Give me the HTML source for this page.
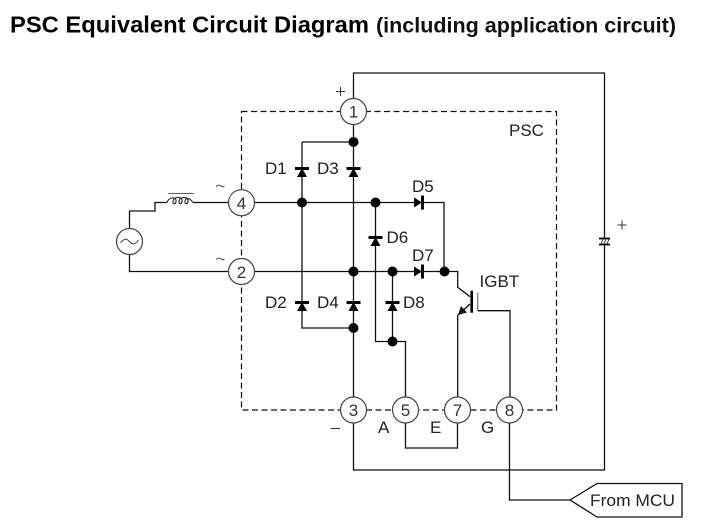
<!DOCTYPE html>
<html><head><meta charset="utf-8"><style>
html,body{margin:0;padding:0;background:#fff}
svg{display:block}
text{font-family:"Liberation Sans",sans-serif;fill:#222;font-size:17px}
.n{text-anchor:middle;font-size:17px;fill:#333}
</style></head><body>
<svg width="714" height="527" viewBox="0 0 714 527" xmlns="http://www.w3.org/2000/svg">
<rect width="714" height="527" fill="#fff"/>
<text x="10" y="32.5" style="font-size:23px;font-weight:bold;fill:#000" textLength="359" lengthAdjust="spacingAndGlyphs">PSC Equivalent Circuit Diagram</text>
<text x="376" y="32.5" style="font-size:21.5px;font-weight:bold;fill:#111" textLength="300" lengthAdjust="spacingAndGlyphs">(including application circuit)</text>

<rect x="241.5" y="111.5" width="315" height="298.5" fill="none" stroke="#111" stroke-width="1.2" stroke-dasharray="6 3.5"/>

<g fill="none" stroke="#111" stroke-width="1.3">
<path d="M353.5 98V73H604.5V470H353.5V423"/>
<path d="M353.5 125V397"/>
<path d="M302 142H353.5M302 142V328H353.5"/>
<path d="M254 202.5H444V271.5M254 271.5H457.7V287.3L470 296.7"/>
<path d="M375.5 202.5V341.5H405.5V397M392.5 271.5V341.5"/>
<path d="M457.7 315V397M470 304L458 315"/>
<path d="M477.7 310.7H510V397" />
<path d="M405.5 423V448H457.5V423"/>
<path d="M509.5 423V500H570"/>
<path d="M129.5 228V211H155V202.5H167M193 202.5H228M129.5 255V271.5H228"/>
<path d="M570 500L597 483.5H682V517H597Z" fill="#fff"/>
</g>
<path d="M477.7 292.7V310.7" stroke="#777" stroke-width="1.2"/>
<path d="M471.7 290.7V312.7" stroke="#000" stroke-width="2.6"/>
<path d="M458 315L461 306L467 312.5Z" fill="#111"/>

<!-- inductor -->
<path d="M168 193.5H194" stroke="#666" stroke-width="1"/>
<path d="M167 202.5C169 197 175 196.5 176 200C176.5 204.5 172.5 205 173 201C174 196.5 181 196.5 182 200C182.5 204.5 178.5 205 179 201C180 196.5 187 196.5 188 200C188.5 204.5 184.5 205 185 201C186 197 190 198 193 202.5" fill="none" stroke="#222" stroke-width="1.1"/>

<!-- diodes -->
<g fill="#000" stroke="none">
<rect x="295" y="167" width="14" height="3"/><path d="M302 168L307 177H297Z"/>
<rect x="346.5" y="167" width="14" height="3"/><path d="M353.5 168L358.5 177H348.5Z"/>
<rect x="295" y="301" width="14" height="3"/><path d="M302 302L307 311H297Z"/>
<rect x="346.5" y="301" width="14" height="3"/><path d="M353.5 302L358.5 311H348.5Z"/>
<rect x="385.5" y="301" width="14" height="3"/><path d="M392.5 302L397.5 311H387.5Z"/>
<rect x="368.5" y="236" width="14" height="3"/><path d="M375.5 237L380.5 246H370.5Z"/>
<rect x="421" y="195.5" width="3" height="14"/><path d="M422 202.5L414 197.5V207.5Z"/>
<rect x="421" y="264.5" width="3" height="14"/><path d="M422 271.5L414 266.5V276.5Z"/>
<!-- dots -->
<circle cx="353.5" cy="142" r="5"/>
<circle cx="302" cy="202.5" r="5"/>
<circle cx="375.5" cy="202.5" r="5"/>
<circle cx="353.5" cy="271.5" r="5"/>
<circle cx="392.5" cy="271.5" r="5"/>
<circle cx="444.5" cy="271.5" r="5"/>
<circle cx="353.5" cy="328" r="5"/>
<circle cx="392.5" cy="341.5" r="5"/>
</g>

<!-- capacitor -->
<rect x="599" y="238" width="11" height="7.5" fill="#fff"/>
<path d="M599 238.5H610M599 244.5H610" stroke="#000" stroke-width="1.8"/>
<path d="M601 244L603 239M604 244L606 239M607 244L609 239" stroke="#333" stroke-width="1"/>

<!-- terminals -->
<g fill="#fff" stroke="#444" stroke-width="1.2">
<circle cx="353.5" cy="111.5" r="13"/>
<circle cx="241.5" cy="202.7" r="13"/>
<circle cx="241.5" cy="271.5" r="13"/>
<circle cx="353.5" cy="410" r="13"/>
<circle cx="405.5" cy="410" r="13"/>
<circle cx="457.5" cy="410" r="13"/>
<circle cx="509.5" cy="410" r="13"/>
<circle cx="129.5" cy="241.5" r="13"/>
</g>
<path d="M120.5 243C124 238 127 238.5 129.5 241.5C132 244.5 135 245 138.5 240" fill="none" stroke="#444" stroke-width="1"/>
<text class="n" x="353.5" y="117.5">1</text>
<text class="n" x="241.5" y="208.8">4</text>
<text class="n" x="241.5" y="277.8">2</text>
<text class="n" x="353.5" y="416">3</text>
<text class="n" x="405.5" y="416">5</text>
<text class="n" x="457.5" y="416">7</text>
<text class="n" x="509.5" y="416">8</text>

<text x="265" y="174">D1</text>
<text x="317" y="174">D3</text>
<text x="265" y="308">D2</text>
<text x="317" y="308">D4</text>
<text x="412" y="192">D5</text>
<text x="386.5" y="243">D6</text>
<text x="412" y="261">D7</text>
<text x="403" y="308">D8</text>
<text x="479.5" y="287">IGBT</text>
<text x="509" y="136">PSC</text>
<text x="378" y="433">A</text>
<text x="430" y="433">E</text>
<text x="481" y="433">G</text>
<text x="590" y="506" textLength="85" lengthAdjust="spacingAndGlyphs">From MCU</text>
<path d="M331 428.5H340" stroke="#333" stroke-width="1.1"/>
<path d="M336 91.5H345M340.5 87V96" stroke="#333" stroke-width="1"/>
<path d="M617.5 225H626.5M622 220.5V229.5" stroke="#333" stroke-width="1"/>
<path d="M216 186.5C218 184.5 220 185 221 186C222 187 223.5 187 224.5 186" fill="none" stroke="#444" stroke-width="1"/>
<path d="M216 259.5C218 257.5 220 258 221 259C222 260 223.5 260 224.5 259" fill="none" stroke="#444" stroke-width="1"/>
</svg>
</body></html>
